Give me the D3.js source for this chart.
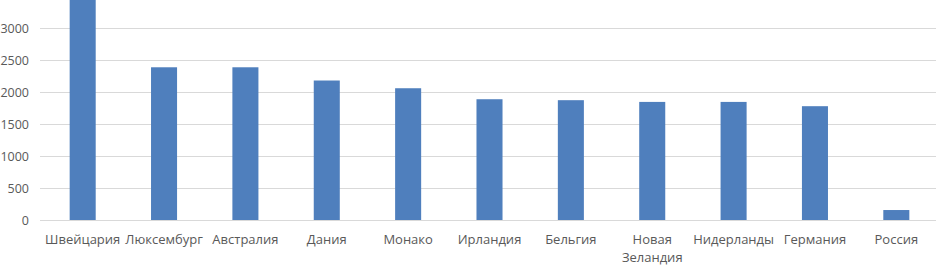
<!DOCTYPE html>
<html>
<head>
<meta charset="utf-8">
<script src="https://cdn.jsdelivr.net/npm/d3@7"></script>
<style>
  body { margin: 0; background: #fff; }
  svg { display: block; font-family: "Open Sans", "Noto Sans", sans-serif; }
</style>
</head>
<body>
<svg id="chart" width="936" height="265"></svg>
<script>
// countries, left to right
var countries = ["Швейцария", "Люксембург", "Австралия", "Дания", "Монако", "Ирландия",
  "Бельгия", "Новая Зеландия", "Нидерланды", "Германия", "Россия"];
// values
var values = [3450, 2390, 2390, 2183, 2062, 1890, 1875, 1848, 1848, 1781, 156];
var yTicks = [0, 500, 1000, 1500, 2000, 2500, 3000];

var svg = d3.select("#chart");
var W = 936, H = 265;

// plot area (the picture is cropped at the top)
var x = d3.scaleBand().domain(countries).range([42, 937]).paddingInner(0.68).paddingOuter(0.34);
var y = d3.scaleLinear().domain([0, 3000]).range([220, 28.3]);

//gridlines
svg.append("g").selectAll("line")
  .data(yTicks).enter().append("line")
  .attr("x1", 40).attr("x2", W)
  .attr("y1", function (d) { return Math.round(y(d)) + 0.5; })
  .attr("y2", function (d) { return Math.round(y(d)) + 0.5; })
  .attr("stroke", "#d9d9d9").attr("stroke-width", 1);

// y axis labels
var yAxis = d3.axisLeft(y).tickValues(yTicks).tickFormat(d3.format("d")).tickSize(0).tickPadding(0);
var ya = svg.append("g").attr("transform", "translate(29,0)").call(yAxis);
ya.select(".domain").remove();
ya.selectAll("text").attr("fill", "#595959").style("font-size", "12.5px")
  .style("font-family", "\"Open Sans\", \"Noto Sans\", sans-serif");

// bars
svg.append("g").selectAll("rect")
  .data(values).enter().append("rect")
  .attr("x", function (d, i) { return x(countries[i]); })
  .attr("width", x.bandwidth())
  .attr("y", function (d) { return y(d); })
  .attr("height", function (d) { return y(0) - y(d); })
  .attr("fill", "#4f7fbd");

// category labels, wrap by words if too wide for the band
var lab = svg.append("g");
countries.forEach(function (c) {
  var cx = x(c) + x.bandwidth() / 2;
  var t = lab.append("text")
    .attr("x", cx).attr("y", 244)
    .attr("text-anchor", "middle")
    .attr("fill", "#595959")
    .style("font-size", "13px")
    .text(c);
  if (t.node().getComputedTextLength() > x.step() && c.indexOf(" ") > 0) {
    var words = c.split(" ");
    t.text(null);
    words.forEach(function (w, k) {
      t.append("tspan").attr("x", cx).attr("dy", k === 0 ? 0 : 18).text(w);
    });
  }
});
</script>
</body>
</html>
